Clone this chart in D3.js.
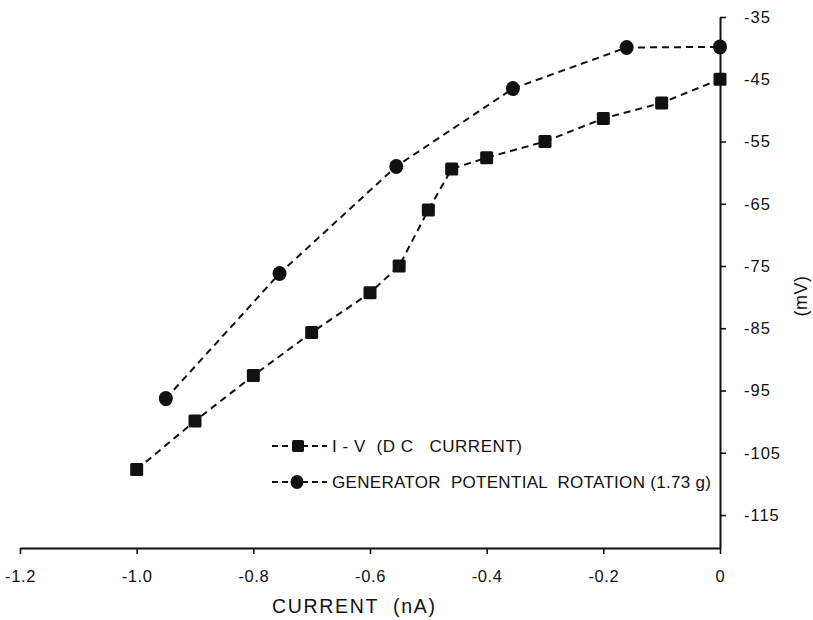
<!DOCTYPE html>
<html>
<head>
<meta charset="utf-8">
<script src="https://cdn.jsdelivr.net/npm/d3@7"></script>
<style>
  html, body { margin: 0; padding: 0; background: #fff; }
  svg { display: block; }
  text { font-family: "Liberation Sans", Arial, sans-serif; fill: #111; }
</style>
</head>
<body>
<svg id="chart" width="813" height="620"></svg>
<script>
// ---- data ----
const ivCurrent   = [-1.0, -0.9, -0.8, -0.7, -0.6, -0.55, -0.5, -0.46, -0.4, -0.3, -0.2, -0.1, 0];
const ivVoltage   = [-107.7, -99.9, -92.6, -85.7, -79.3, -75.0, -66.0, -59.4, -57.6, -55.0, -51.3, -48.8, -45.0];
const genCurrent  = [-0.95, -0.755, -0.555, -0.355, -0.16, 0];
const genVoltage  = [-96.3, -76.2, -59.0, -46.5, -39.9, -39.8];
const xTicks      = [-1.2, -1.0, -0.8, -0.6, -0.4, -0.2, 0];
const xTickLabels = ["-1.2", "-1.0", "-0.8", "-0.6", "-0.4", "-0.2", "0"];
const yTicks      = [-35, -45, -55, -65, -75, -85, -95, -105, -115];
const yTickLabels = ["-35", "-45", "-55", "-65", "-75", "-85", "-95", "-105", "-115"];
const seriesNames = ["I - V  (D C   CURRENT)", "GENERATOR  POTENTIAL  ROTATION (1.73 g)"];
const xTitle = "CURRENT  (nA)";
const yTitle = "(mV)";

// ---- layout ----
const svg = d3.select("#chart");
const x = d3.scaleLinear().domain([-1.2, 0]).range([20, 720]);
const y = d3.scaleLinear().domain([-120.3, -35]).range([548, 17]);

// x axis
const xAxis = d3.axisBottom(x)
  .tickValues(xTicks)
  .tickFormat((d, i) => xTickLabels[i])
  .tickSize(6).tickSizeOuter(0).tickPadding(16);
const gx = svg.append("g").attr("transform", `translate(0,${y(-120.3)})`).call(xAxis);
gx.select(".domain").attr("stroke", "#111").attr("stroke-width", 2);
gx.selectAll(".tick line").attr("stroke", "#111").attr("stroke-width", 1.6);
gx.selectAll(".tick text").attr("font-size", 16.5).attr("fill", "#111")
  .attr("letter-spacing", 0.6)
  .attr("font-family", "Liberation Sans, Arial, sans-serif");

// y axis (right side)
const yAxis = d3.axisRight(y)
  .tickValues(yTicks)
  .tickFormat((d, i) => yTickLabels[i])
  .tickSize(6).tickSizeOuter(0).tickPadding(18);
const gy = svg.append("g").attr("transform", `translate(${x(0)},0)`).call(yAxis);
gy.select(".domain").attr("stroke", "#111").attr("stroke-width", 2);
gy.selectAll(".tick line").attr("stroke", "#111").attr("stroke-width", 1.6);
gy.selectAll(".tick text").attr("font-size", 16.5).attr("fill", "#111")
  .attr("letter-spacing", 1)
  .attr("font-family", "Liberation Sans, Arial, sans-serif");

// titles
svg.append("text").attr("x", 272).attr("y", 613)
  .attr("font-size", 19.5).attr("textLength", 163).attr("lengthAdjust", "spacing")
  .style("white-space", "pre").text(xTitle);
svg.append("text").attr("transform", "translate(807,296) rotate(-90)")
  .attr("text-anchor", "middle").attr("font-size", 18).attr("letter-spacing", 0.5).text(yTitle);

// lines
const line = d3.line().x(d => x(d[0])).y(d => y(d[1]));
const ivData = ivCurrent.map((c, i) => [c, ivVoltage[i]]);
const genData = genCurrent.map((c, i) => [c, genVoltage[i]]);

[ivData, genData].forEach(data => {
  svg.append("path").datum(data).attr("d", line)
    .attr("fill", "none").attr("stroke", "#111").attr("stroke-width", 2)
    .attr("stroke-dasharray", "7,5");
});

const sq = 13;
svg.append("g").selectAll("rect").data(ivData).join("rect")
  .attr("x", d => x(d[0]) - sq / 2).attr("y", d => y(d[1]) - sq / 2)
  .attr("width", sq).attr("height", sq).attr("rx", 1.5).attr("fill", "#111");

svg.append("g").selectAll("ellipse").data(genData).join("ellipse")
  .attr("cx", d => x(d[0])).attr("cy", d => y(d[1]))
  .attr("rx", 7).attr("ry", 7.5).attr("fill", "#111");

// legend
const legend = svg.append("g");
const legRows = [446, 482];
const legWidths = [190, 379];
legRows.forEach((ly, i) => {
  legend.append("line").attr("x1", 272).attr("x2", 327).attr("y1", ly).attr("y2", ly)
    .attr("stroke", "#111").attr("stroke-width", 2).attr("stroke-dasharray", "6,4");
  if (i === 0) {
    legend.append("rect").attr("x", 298 - 6).attr("y", ly - 6).attr("width", 12).attr("height", 12)
      .attr("rx", 1.5).attr("fill", "#111");
  } else {
    legend.append("ellipse").attr("cx", 297).attr("cy", ly).attr("rx", 6.5).attr("ry", 7).attr("fill", "#111");
  }
  legend.append("text").attr("x", 332).attr("y", ly + 6).attr("font-size", 17)
    .attr("textLength", legWidths[i]).attr("lengthAdjust", "spacing")
    .style("white-space", "pre").text(seriesNames[i]);
});
</script>
</body>
</html>
